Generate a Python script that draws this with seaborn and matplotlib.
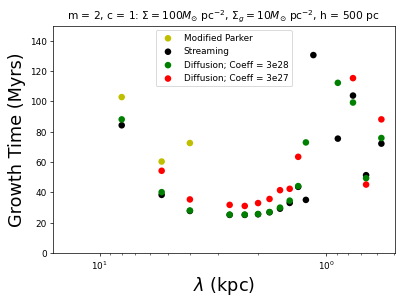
import numpy as np
import matplotlib
matplotlib.use("Agg")
import matplotlib.pyplot as plt
import seaborn as sns
import pandas as pd

# -----------------------------
# Data (wavelength in kpc, growth time in Myrs)
# -----------------------------
lam = [8.0, 5.33, 4.0, 2.67, 2.29, 2.0, 1.78, 1.6, 1.45, 1.33, 1.23, 1.14, 0.889, 0.762, 0.667, 0.571]

parker = [102.9, 60.4, 72.6, np.nan, np.nan, np.nan, np.nan, np.nan,
          np.nan, np.nan, np.nan, np.nan, np.nan, np.nan, np.nan, np.nan]
streaming = [84.3, 38.4, 27.8, 25.2, 25.2, 25.6, 26.9, 29.3,
             33.1, 43.7, 35.1, 130.6, 75.5, 103.9, 51.4, 72.2]
diff_3e28 = [88.2, 40.2, 28.1, 25.4, 25.4, 25.8, 27.1, 30.0,
             34.6, 44.2, 73.0, np.nan, 112.3, 99.3, 49.4, 75.9]
diff_3e27 = [np.nan, 54.3, 35.4, 31.8, 31.1, 33.0, 35.7, 41.5,
             42.4, 63.5, np.nan, np.nan, np.nan, 115.4, 45.2, 88.2]

series = [
    ("Modified Parker", parker, "y"),
    ("Streaming", streaming, "k"),
    ("Diffusion; Coeff = 3e28", diff_3e28, "g"),
    ("Diffusion; Coeff = 3e27", diff_3e27, "r"),
]

# -----------------------------
# Plot
# -----------------------------
fig, ax = plt.subplots(figsize=(6.4, 4.8), dpi=63.6)
for name, vals, col in series:
    df = pd.DataFrame({"lam": lam, "t": vals}).dropna()
    sns.scatterplot(data=df, x="lam", y="t", color=col, s=55,
                    edgecolor="none", label=name, ax=ax)

ax.set_xscale("log")
ax.set_xlim(16.1, 0.498)
ax.set_ylim(0, 150)
ax.set_xlabel(r"$\lambda$ (kpc)", fontsize=20)
ax.set_ylabel("Growth Time (Myrs)", fontsize=20)
ax.set_title(r"m = 2, c = 1: $\Sigma = 100M_{\odot}$ pc$^{-2}$, "
             r"$\Sigma_g = 10M_{\odot}$ pc$^{-2}$, h = 500 pc")
ax.legend(loc="upper center")

plt.subplots_adjust(left=0.130, right=0.970, top=0.915, bottom=0.170)
plt.savefig("out.png", dpi=63.6)
